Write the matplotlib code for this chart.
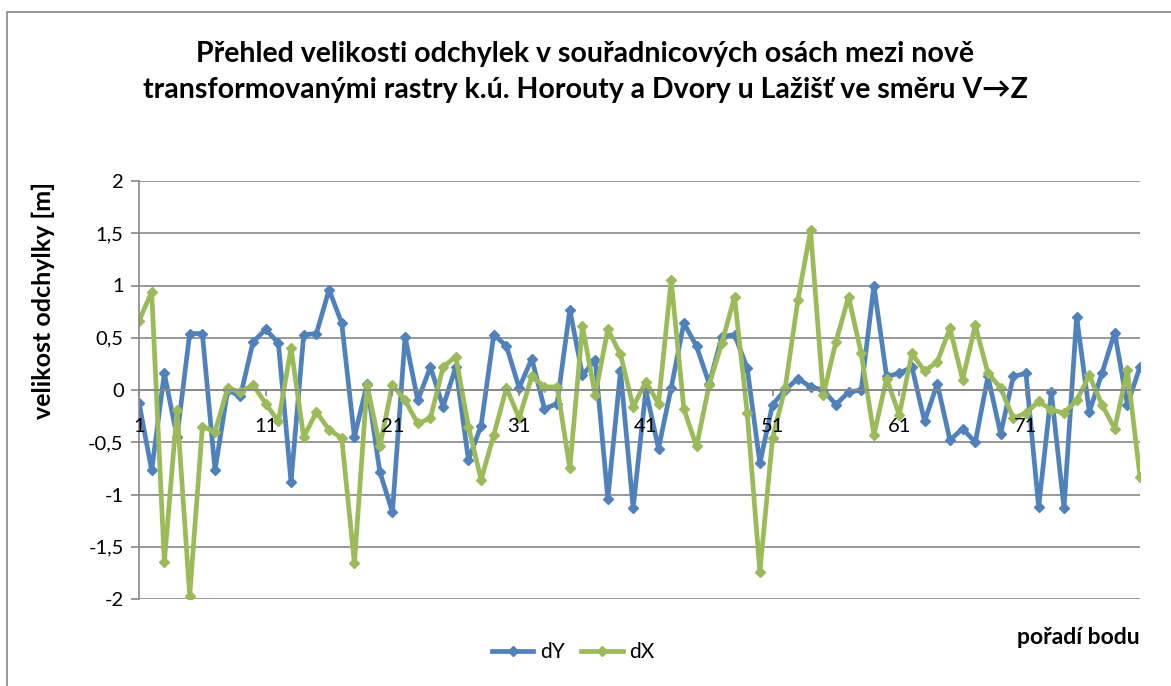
import numpy as np
import matplotlib
matplotlib.use("Agg")
import matplotlib.pyplot as plt
from matplotlib.patches import Rectangle

plt.rcParams['font.family'] = ['Lato', 'DejaVu Sans']

# pořadí bodu 1..80
body = np.arange(1, 81)

dY = [-0.12, -0.77, 0.16, -0.45, 0.54, 0.54, -0.77, 0.00, -0.06, 0.46,
      0.58, 0.45, -0.88, 0.53, 0.54, 0.96, 0.64, -0.45, 0.06, -0.78,
      -1.17, 0.51, -0.10, 0.22, -0.16, 0.22, -0.67, -0.34, 0.53, 0.42,
      0.02, 0.30, -0.18, -0.13, 0.77, 0.14, 0.29, -1.04, 0.18, -1.13,
      0.00, -0.56, 0.02, 0.64, 0.42, 0.06, 0.51, 0.53, 0.21, -0.70,
      -0.14, 0.00, 0.11, 0.03, 0.00, -0.14, -0.02, 0.00, 1.00, 0.13,
      0.16, 0.22, -0.30, 0.06, -0.48, -0.37, -0.50, 0.13, -0.42, 0.13,
      0.16, -1.12, -0.02, -1.13, 0.70, -0.21, 0.16, 0.55, -0.14, 0.22]

dX = [0.66, 0.94, -1.65, -0.19, -1.97, -0.35, -0.40, 0.02, -0.02, 0.05,
      -0.13, -0.30, 0.40, -0.45, -0.21, -0.38, -0.46, -1.66, 0.05, -0.54,
      0.05, -0.10, -0.32, -0.27, 0.22, 0.32, -0.35, -0.86, -0.43, 0.02,
      -0.27, 0.13, 0.03, 0.03, -0.75, 0.61, -0.05, 0.58, 0.34, -0.16,
      0.08, -0.13, 1.05, -0.18, -0.54, 0.05, 0.45, 0.89, -0.22, -1.74,
      -0.46, 0.02, 0.86, 1.53, -0.05, 0.46, 0.89, 0.35, -0.43, 0.11,
      -0.24, 0.35, 0.18, 0.27, 0.59, 0.10, 0.62, 0.16, 0.02, -0.27,
      -0.22, -0.11, -0.19, -0.22, -0.10, 0.14, -0.14, -0.37, 0.19, -0.83]

W, H = 1171, 686
fig = plt.figure(figsize=(W / 100, H / 100), dpi=100)

# rámeček grafu
fig.patches.append(Rectangle((7 / W, -0.1), 1.2, 1 - 12 / H + 0.1, transform=fig.transFigure,
                             fill=False, edgecolor='#868686', linewidth=1.2))

ax = fig.add_axes([139 / W, (H - 599) / H, (1140 - 139) / W, (599 - 181) / H])

grid_c = '#878787'
ax.plot(body, dY, color='#4F81BD', lw=3.4, marker='D', ms=5.5, label='dY')
ax.plot(body, dX, color='#9BBB59', lw=3.4, marker='D', ms=5.5, label='dX')

ax.set_xlim(1, 80)
ax.set_ylim(-2, 2)
yt = np.arange(-2, 2.01, 0.5)
ax.set_yticks(yt)
ax.set_yticklabels([('%g' % v).replace('.', ',') for v in yt])
ax.yaxis.grid(True, color=grid_c, lw=1.2)
ax.set_axisbelow(True)

ax.set_xticks(np.arange(1, 80, 10))
ax.set_xticklabels([str(v) for v in range(1, 80, 10)])
ax.xaxis.set_zorder(5)  # popisky kategorií nad čarami

for s in ['top', 'right']:
    ax.spines[s].set_visible(False)
ax.spines['left'].set_color(grid_c)
ax.spines['left'].set_linewidth(1.2)
ax.spines['bottom'].set_position(('data', 0))
ax.spines['bottom'].set_color(grid_c)
ax.spines['bottom'].set_linewidth(1.2)

ax.tick_params(axis='y', length=6, color=grid_c, width=1.2, labelsize=14.5, pad=5)
ax.tick_params(axis='x', length=4, color=grid_c, width=1.2, labelsize=14.5, pad=16)

fig.text(585 / W, 1 - 72 / H,
         "Přehled velikosti odchylek v souřadnicových osách mezi nově\n"
         "transformovanými rastry k.ú. Horouty a Dvory u Lažišť ve směru V→Z",
         ha='center', va='center', fontsize=20.5, fontweight='bold', linespacing=1.5)

fig.text(43 / W, 1 - 300 / H, "velikost odchylky [m]", rotation=90,
         ha='center', va='center', fontsize=18, fontweight='bold')

fig.text(1140 / W, 1 - 637 / H, "pořadí bodu", ha='right', va='center',
         fontsize=16.5, fontweight='bold')

fig.legend(loc='center', bbox_to_anchor=(573 / W, 1 - 652 / H), ncol=2,
           frameon=False, fontsize=15, handlelength=2.0, columnspacing=0.8,
           handletextpad=0.3)

fig.savefig("out.png", dpi=100)
